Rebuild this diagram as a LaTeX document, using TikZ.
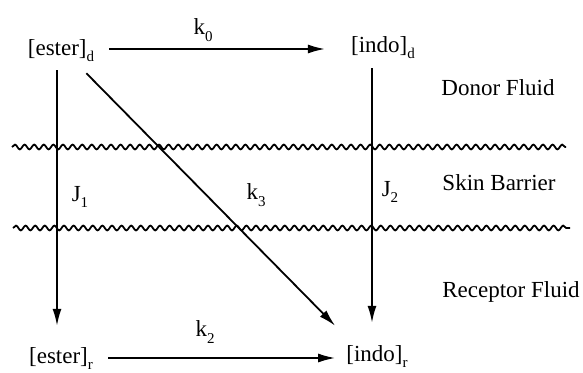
\documentclass[tikz,border=0pt]{standalone}
\usepackage{fontspec}
\setmainfont{Liberation Serif}
\usetikzlibrary{arrows.meta,decorations.pathmorphing}
\newcommand{\sbx}[1]{\raisebox{-0.3em}{\fontsize{15}{15}\selectfont #1}}
\begin{document}
\begin{tikzpicture}[x=1pt,y=1pt,
  lab/.style={font=\fontsize{23}{26}\selectfont, inner sep=0pt},
  conc/.style={lab, text height=16pt, text depth=6pt},
  arr/.style={line width=1.8pt, -{Latex[length=17pt,width=9pt]}},
  wave/.style={line width=1.8pt, decorate, decoration={snake, segment length=9.6pt, amplitude=2.4pt}}]
\useasboundingbox (0,0) rectangle (583,-372);
% concentrations
\node[conc] (ed) at (61,-50) {[ester]\sbx{d}};
\node[conc] (id) at (383,-47) {[indo]\sbx{d}};
\node[conc] (er) at (61,-358) {[ester]\sbx{r}};
\node[conc] (ir) at (377,-356) {[indo]\sbx{r}};
% region labels
\node[lab] (donor) at (498,-88) {Donor Fluid};
\node[lab] (skin) at (499,-183) {Skin Barrier};
\node[lab] (recep) at (511,-292) {Receptor Fluid};
% rate labels
\node[lab] (k0) at (203,-30) {k\sbx{0}};
\node[lab] (j1) at (80,-197) {J\sbx{1}};
\node[lab] (k3) at (256,-195) {k\sbx{3}};
\node[lab] (j2) at (390,-192) {J\sbx{2}};
\node[lab] (k2) at (205,-332) {k\sbx{2}};
% membranes
\coordinate (w1a) at (12,-147);
\coordinate (w1b) at (566,-147);
\coordinate (w2a) at (13,-228);
\coordinate (w2b) at (570,-228);
\draw[wave] (w1a) -- (w1b);
\draw[wave] (w2a) -- (w2b);
% connectors
\draw[arr] ([xshift=15pt,yshift=1pt]ed.east) -- ([xshift=-26pt,yshift=1pt]ed.east -| id.west);
\draw[arr] ([xshift=-4pt,yshift=-9pt]ed.south) -- ([xshift=-4pt,yshift=21pt]er.north);
\draw[arr] ([xshift=-8pt,yshift=-12pt]ed.south east) -- ([xshift=-11pt,yshift=19pt]ir.north west);
\draw[arr] ([xshift=-11pt,yshift=-10pt]id.south) -- ([xshift=-11pt,yshift=22pt]id.south |- ir.north);
\draw[arr] ([xshift=15pt]er.east) -- ([xshift=-11pt]er.east -| ir.west);
\end{tikzpicture}
\end{document}
